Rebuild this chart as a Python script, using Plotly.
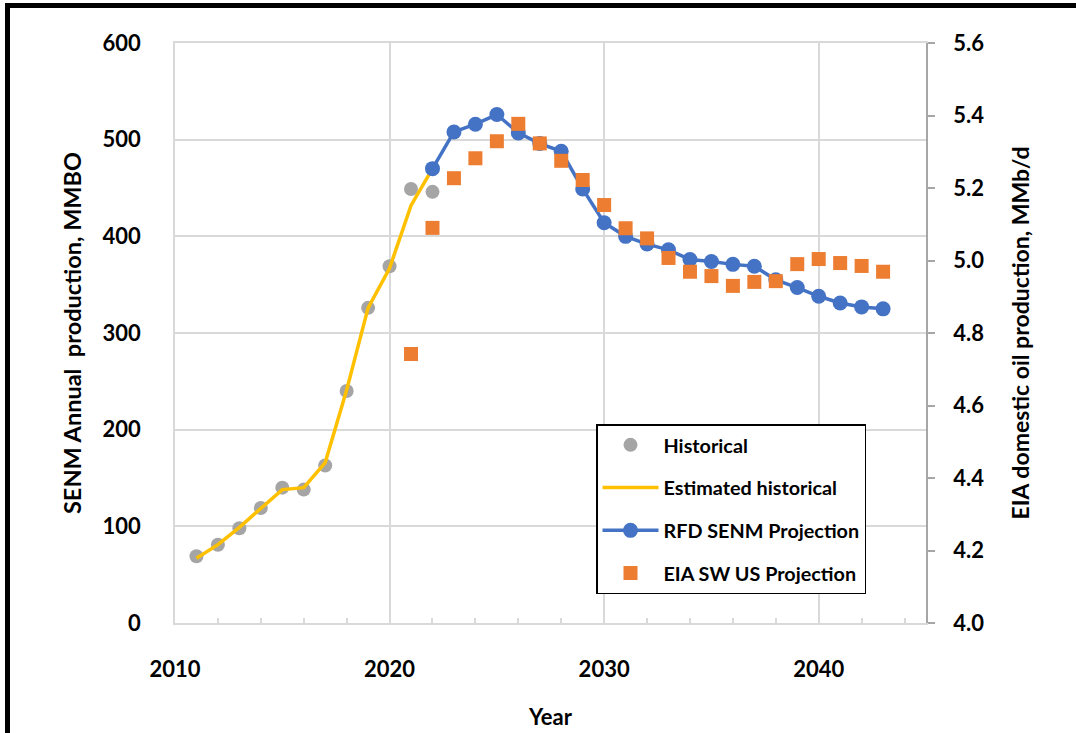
import plotly.graph_objects as go

# ---- data ----
hist_years = [2011, 2012, 2013, 2014, 2015, 2016, 2017, 2018, 2019, 2020, 2021, 2022]
historical = [69, 81, 98, 119, 140, 138, 163, 240, 326, 369, 449, 446]
estimated = [67, 81, 99, 118, 138, 140, 166, 241, 326, 367, 432, 470]

rfd_years = list(range(2022, 2044))
rfd_senm = [470, 508, 516, 526, 507, 496, 488, 449, 414, 400, 392, 386,
            376, 374, 371, 369, 355, 347, 338, 331, 327, 325]

eia_years = list(range(2021, 2044))
eia_sw = [4.742, 5.090, 5.227, 5.282, 5.329, 5.377, 5.323, 5.275, 5.222, 5.153,
          5.089, 5.061, 5.007, 4.969, 4.957, 4.930, 4.941, 4.943, 4.990, 5.004,
          4.993, 4.985, 4.969]

FONT = "Lato"
fig = go.Figure()

fig.add_trace(go.Scatter(
    x=hist_years, y=historical, name="Historical", mode="markers",
    marker=dict(color="#a5a5a5", size=14, symbol="circle"),
    legendgroup="a"))
fig.add_trace(go.Scatter(
    x=hist_years, y=estimated, name="Estimated historical", mode="lines",
    line=dict(color="#ffc000", width=3.5), legendgroup="b"))
fig.add_trace(go.Scatter(
    x=rfd_years, y=rfd_senm, name="RFD SENM Projection", mode="lines+markers",
    line=dict(color="#4472c4", width=3.5),
    marker=dict(color="#4472c4", size=15, symbol="circle"), legendgroup="c"))
fig.add_trace(go.Scatter(
    x=eia_years, y=eia_sw, name="EIA SW US Projection", mode="markers",
    marker=dict(color="#ed7d31", size=14, symbol="square"),
    yaxis="y2", legendgroup="d"))

L, R, T, B = 175, 926, 43, 623
W, H = 1076, 733

def px(x):
    return (x - L) / (R - L)

def py(y):
    return (B - y) / (B - T)

bold = lambda s: dict(family=FONT, size=s, color="black", weight="bold")

fig.update_layout(
    width=W, height=H,
    margin=dict(l=L, r=W - R, t=T, b=H - B, pad=0, autoexpand=False),
    paper_bgcolor="white", plot_bgcolor="white",
    font=bold(22),
    xaxis=dict(
        range=[2010, 2045], dtick=10, tick0=2010,
        showgrid=True, gridcolor="#d9d9d9", gridwidth=1.5,
        showline=True, linecolor="#d9d9d9", linewidth=1.5, mirror=True,
        ticks="", zeroline=False, automargin=False,
        minor=dict(dtick=2, ticks="inside", ticklen=5, tickcolor="#d9d9d9",
                   tickwidth=1.5, showgrid=False),
        tickfont=bold(22),
        ticklabelstandoff=26,
        title=dict(text="Year", font=bold(22), standoff=28),
    ),
    yaxis=dict(
        range=[0, 600], dtick=100,
        showgrid=True, gridcolor="#d9d9d9", gridwidth=1.5,
        showline=True, linecolor="#d9d9d9", linewidth=1.5,
        ticks="", zeroline=False, automargin=False,
        tickfont=bold(22),
        ticklabelstandoff=28,
        title=dict(text="SENM Annual  production, MMBO", font=bold(23.5),
                   standoff=14),
    ),
    yaxis2=dict(
        range=[4.0, 5.6], dtick=0.2, tickformat=".1f",
        overlaying="y", side="right", showgrid=False, zeroline=False,
        showline=True, linecolor="#a6a6a6", linewidth=1.5, automargin=False,
        ticks="outside", ticklen=7, tickcolor="#a6a6a6", tickwidth=1.5,
        tickfont=bold(22),
        ticklabelstandoff=14,
        title=dict(text="EIA domestic oil production, MMb/d", font=bold(23),
                   standoff=30),
    ),
    showlegend=True,
    legend=dict(
        x=px(596), y=py(424), xanchor="left", yanchor="top",
        bgcolor="white", bordercolor="black", borderwidth=1.5,
        font=bold(19.8),
        traceorder="grouped", tracegroupgap=14, itemwidth=56,
    ),
    shapes=[
        dict(type="line", xref="paper", yref="paper",
             x0=px(5), x1=px(1080), y0=py(5.5), y1=py(5.5),
             line=dict(color="black", width=5)),
        dict(type="line", xref="paper", yref="paper",
             x0=px(7.5), x1=px(7.5), y0=py(3), y1=py(740),
             line=dict(color="black", width=5)),
    ],
)

fig.write_html("out.html", config={"displayModeBar": False},
               post_script="document.body.style.margin='0px';document.body.style.padding='0px';")
